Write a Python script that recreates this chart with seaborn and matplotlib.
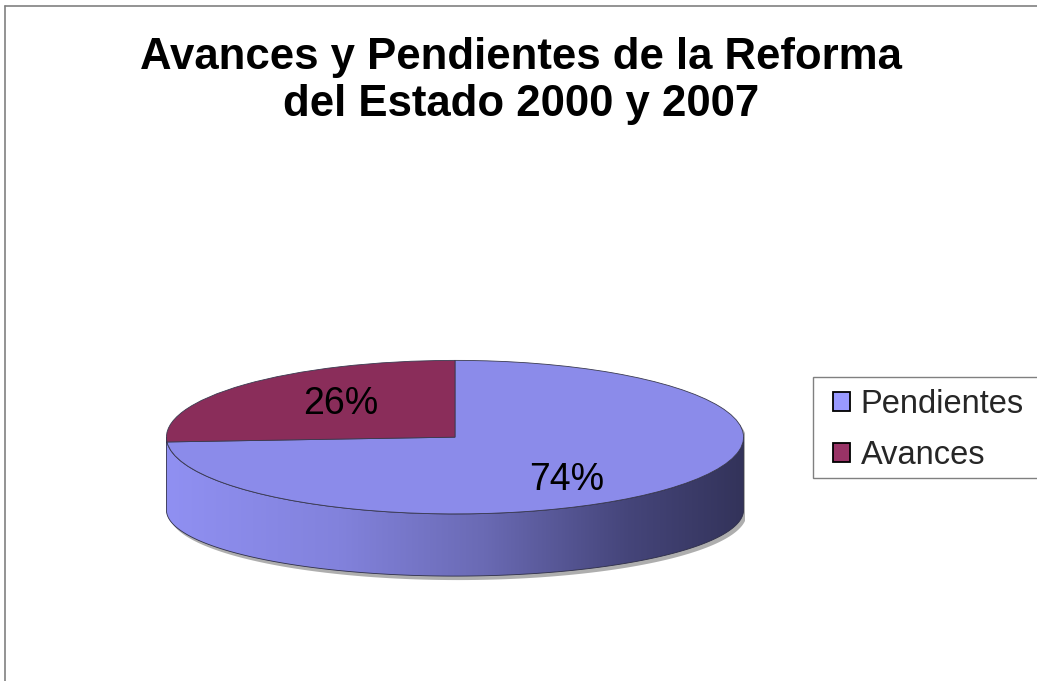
import numpy as np
import matplotlib
matplotlib.use("Agg")
import matplotlib.pyplot as plt
import seaborn as sns
from matplotlib.patches import Patch, Polygon, Rectangle
from matplotlib.colors import LinearSegmentedColormap
from matplotlib.lines import Line2D

# ---- data ----
categories = ["Pendientes", "Avances"]
values = [74, 26]
title_lines = ["Avances y Pendientes de la Reforma", "del Estado 2000 y 2007"]

sns.set_theme(style="white")
plt.rcParams['font.family'] = ['Liberation Sans', 'DejaVu Sans']

top_colors = ["#8b8bea", "#8a2d5a"]
legend_colors = ["#9999ff", "#993366"]

W, H = 1037, 681
fig = plt.figure(figsize=(W / 100, H / 100), dpi=100)
fig.patch.set_facecolor("white")


def px_rect(x0, y0, x1, y1):
    return [x0 / W, 1 - y1 / H, (x1 - x0) / W, (y1 - y0) / H]


ax = fig.add_axes(px_rect(165, 360, 745, 583))
ax.set_facecolor("none")

wedges, texts, autotexts = ax.pie(
    values, startangle=90, counterclock=False, radius=1, center=(0, 0),
    colors=top_colors, autopct=lambda p: f"{p:.0f}%",
    wedgeprops=dict(edgecolor="#3a3a50", linewidth=0.6),
    textprops=dict(fontsize=27, color="black"))
for w in wedges:
    w.set_zorder(3)

# side of the 3D disc (front half)
depth_off = -0.95
bottom_b = 0.86
t = np.linspace(np.pi, 2 * np.pi, 200)
top_edge = np.column_stack([np.cos(t), np.sin(t)])
bot_edge = np.column_stack([np.cos(t), depth_off + bottom_b * np.sin(t)])[::-1]
verts = np.vstack([top_edge, bot_edge])

# drop shadow of the whole disc silhouette
tu = np.linspace(0, np.pi, 200)
sil = np.vstack([np.column_stack([np.cos(tu), np.sin(tu)]),
                 np.column_stack([np.cos(t), depth_off + bottom_b * np.sin(t)])])
sdx, sdy = 3 / 290, -4 / 77
shadow = Polygon(sil + np.array([sdx, sdy]), closed=True, facecolor="#9a9a9a",
                 edgecolor="none", alpha=0.8, zorder=0.5)
ax.add_patch(shadow)

side = Polygon(verts, closed=True, facecolor="none", edgecolor="#2e2e48",
               linewidth=0.6, transform=ax.transData, zorder=2)
ax.add_patch(side)
cmap = LinearSegmentedColormap.from_list(
    "side", [(0, "#9090f2"), (0.3, "#8282dc"), (0.55, "#6a6ab4"),
             (0.8, "#45457a"), (1.0, "#33335a")])
grad = np.linspace(0, 1, 256)[None, :]
im = ax.imshow(grad, extent=[-1, 1, -1.9, 0], cmap=cmap, aspect="auto",
               zorder=1, interpolation="bicubic")
im.set_clip_path(side)

ax.set_aspect("auto")
ax.set_xlim(-1.005, 1.005)
ax.set_ylim(-1.9, 1.005)
ax.axis("off")

# label positions (Excel 3D layout)
label_pos = {"Pendientes": (0.386, -0.56), "Avances": (-0.397, 0.43)}
for cat, at in zip(categories, autotexts):
    at.set_position(label_pos[cat])
    at.set_ha("center")
    at.set_va("center")
    at.set_zorder(5)

# title
fig.text(521 / W, 1 - 81 / H, "\n".join(title_lines), ha="center", va="center",
         fontsize=31.5, fontweight="bold", linespacing=1.17, color="black")

# legend frame (extends past right edge)
fig.add_artist(Rectangle((813 / W, 1 - 478 / H), (1045 - 813) / W, 101 / H,
                         transform=fig.transFigure, facecolor="white",
                         edgecolor="#808080", linewidth=1.0, zorder=1))
handles = [Patch(facecolor=c, edgecolor="black", linewidth=1.3, label=l)
           for c, l in zip(legend_colors, categories)]
leg = fig.legend(handles=handles, loc="center left",
                 bbox_to_anchor=(833 / W, 1 - 430 / H), frameon=False,
                 fontsize=23.5, handlelength=0.52, handleheight=0.52,
                 handletextpad=0.33, labelspacing=0.6, borderpad=0,
                 borderaxespad=0)
leg.set_zorder(2)

# chart-area border (top and left visible)
fig.add_artist(Line2D([5 / W, 1], [1 - 6 / H, 1 - 6 / H], color="#808080", lw=1.2))
fig.add_artist(Line2D([5 / W, 5 / W], [0, 1 - 6 / H], color="#808080", lw=1.2))

fig.savefig("out.png", dpi=100)
